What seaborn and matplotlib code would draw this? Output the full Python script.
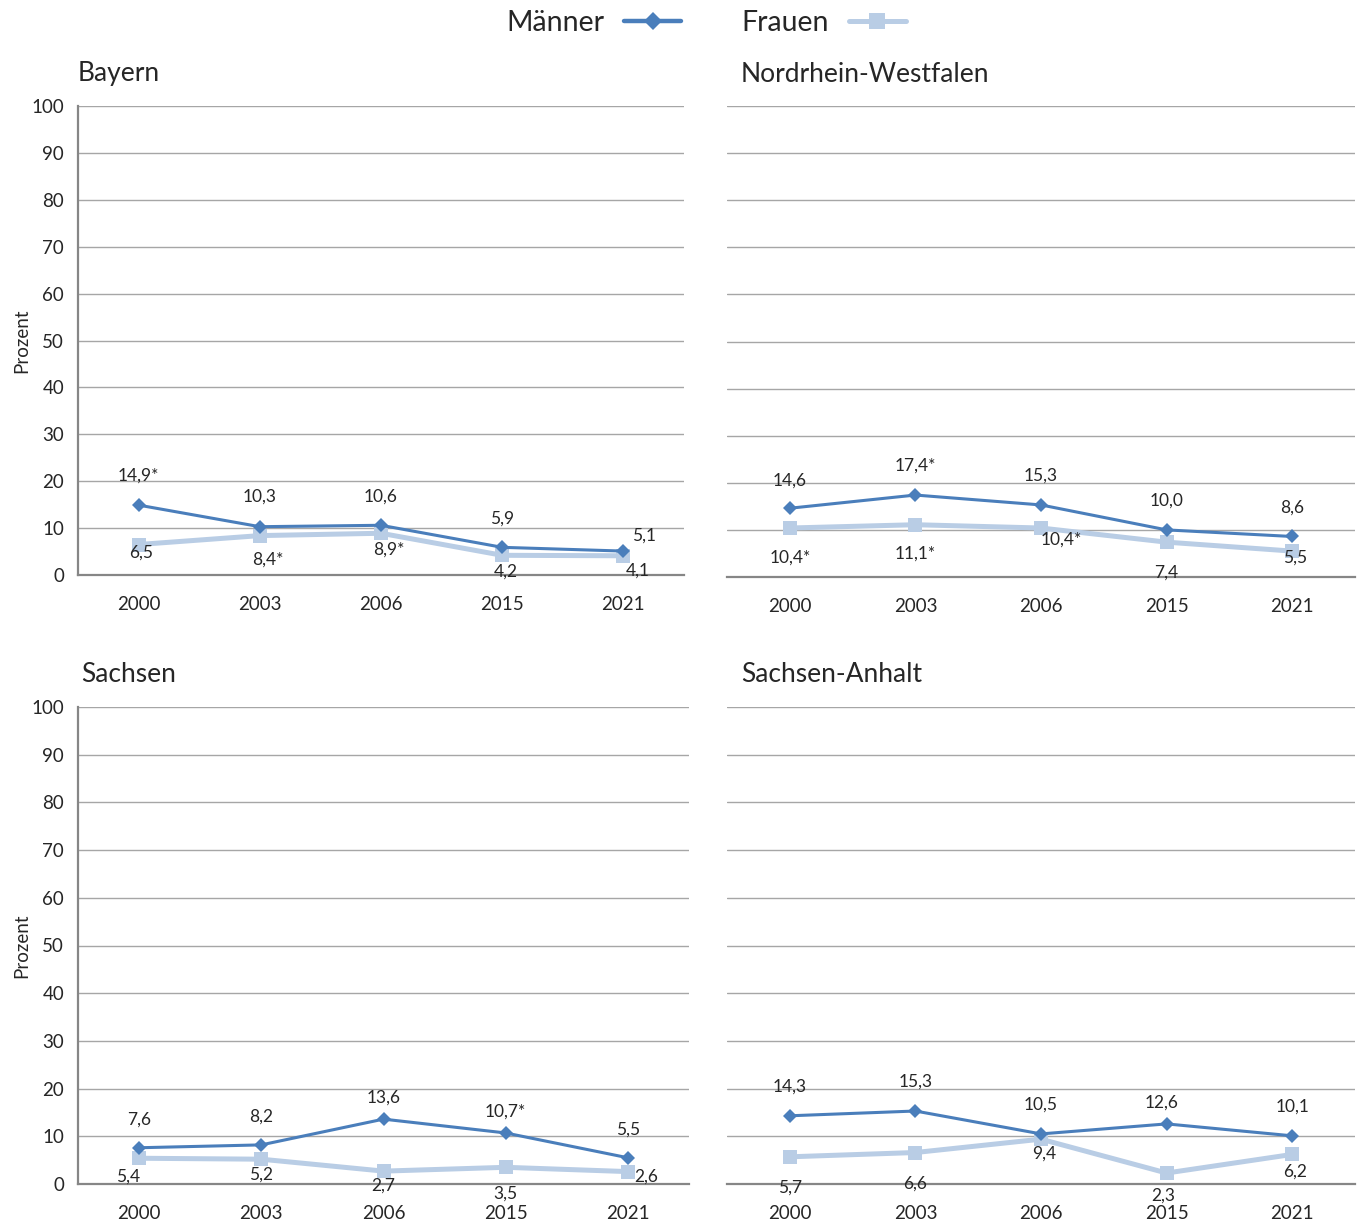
import matplotlib
matplotlib.use("Agg")
import matplotlib.pyplot as plt
import seaborn as sns
import pandas as pd
from matplotlib.lines import Line2D

years = ["2000", "2003", "2006", "2015", "2021"]
regions = ["Bayern", "Nordrhein-Westfalen", "Sachsen", "Sachsen-Anhalt"]

bayern_m = [14.9, 10.3, 10.6, 5.9, 5.1]
bayern_m_lab = ["14,9*", "10,3", "10,6", "5,9", "5,1"]
bayern_f = [6.5, 8.4, 8.9, 4.2, 4.1]
bayern_f_lab = ["6,5", "8,4*", "8,9*", "4,2", "4,1"]

nrw_m = [14.6, 17.4, 15.3, 10.0, 8.6]
nrw_m_lab = ["14,6", "17,4*", "15,3", "10,0", "8,6"]
nrw_f = [10.4, 11.1, 10.4, 7.4, 5.5]
nrw_f_lab = ["10,4*", "11,1*", "10,4*", "7,4", "5,5"]

sachsen_m = [7.6, 8.2, 13.6, 10.7, 5.5]
sachsen_m_lab = ["7,6", "8,2", "13,6", "10,7*", "5,5"]
sachsen_f = [5.4, 5.2, 2.7, 3.5, 2.6]
sachsen_f_lab = ["5,4", "5,2", "2,7", "3,5", "2,6"]

sa_m = [14.3, 15.3, 10.5, 12.6, 10.1]
sa_m_lab = ["14,3", "15,3", "10,5", "12,6", "10,1"]
sa_f = [5.7, 6.6, 9.4, 2.3, 6.2]
sa_f_lab = ["5,7", "6,6", "9,4", "2,3", "6,2"]

# label offsets in pixels (dx, dy; positive dy = up)
off_m = {
    "Bayern": [(0, 29), (0, 30), (0, 29), (0, 29), (21, 15)],
    "Nordrhein-Westfalen": [(0, 28), (0, 29), (0, 29), (0, 29), (0, 29)],
    "Sachsen": [(0, 28), (0, 28), (0, 22), (0, 21), (0, 28)],
    "Sachsen-Anhalt": [(0, 29), (0, 29), (0, 29), (-5, 21), (0, 29)],
}
off_f = {
    "Bayern": [(3, -8), (8, -24), (8, -16), (4, -16), (14, -15)],
    "Nordrhein-Westfalen": [(0, -30), (0, -29), (20, -12), (0, -30), (3, -7)],
    "Sachsen": [(-11, -18), (0, -15), (0, -15), (0, -26), (18, -5)],
    "Sachsen-Anhalt": [(0, -31), (0, -31), (3, -14), (-3, -23), (3, -17)],
}

data = {
    "Bayern": (bayern_m, bayern_m_lab, bayern_f, bayern_f_lab),
    "Nordrhein-Westfalen": (nrw_m, nrw_m_lab, nrw_f, nrw_f_lab),
    "Sachsen": (sachsen_m, sachsen_m_lab, sachsen_f, sachsen_f_lab),
    "Sachsen-Anhalt": (sa_m, sa_m_lab, sa_f, sa_f_lab),
}

sns.set_style("white")
plt.rcParams["font.family"] = ["Lato", "DejaVu Sans"]

W, H = 1362, 1221
fig = plt.figure(figsize=(W / 100, H / 100), dpi=100)

C_M = "#4A7EBB"
C_F = "#B9CDE5"
GRID = "#A6A6A6"
SPINE = "#868686"

boxes = {
    "Bayern": (78, 684, 106, 575),
    "Nordrhein-Westfalen": (727, 1355, 106, 577),
    "Sachsen": (78, 689, 707, 1184),
    "Sachsen-Anhalt": (727, 1355, 707, 1184),
}
title_dx = {"Bayern": 0, "Nordrhein-Westfalen": 14, "Sachsen": 3, "Sachsen-Anhalt": 14}

for reg in regions:
    l, r, t, b = boxes[reg]
    ax = fig.add_axes([l / W, 1 - b / H, (r - l) / W, (b - t) / H])
    m, ml, f, fl = data[reg]
    df_m = pd.DataFrame({"Jahr": years, "Wert": m})
    df_f = pd.DataFrame({"Jahr": years, "Wert": f})
    sns.lineplot(data=df_f, x="Jahr", y="Wert", ax=ax, color=C_F, linewidth=3.6,
                 marker="s", markersize=10.5, markeredgewidth=0, sort=False, zorder=3)
    sns.lineplot(data=df_m, x="Jahr", y="Wert", ax=ax, color=C_M, linewidth=2.2,
                 marker="D", markersize=7, markeredgewidth=0, sort=False, zorder=4)
    ax.set_xlim(-0.5, 4.5)
    ax.set_ylim(0, 100)
    ax.set_yticks(range(0, 101, 10))
    ax.yaxis.grid(True, color=GRID, linewidth=1)
    ax.set_axisbelow(True)
    ax.set_xticks(range(5))
    ax.set_xticklabels(years, fontsize=13.5)
    ax.set_xticks([i - 0.5 for i in range(6)], minor=True)
    ax.tick_params(axis="x", which="major", length=0, pad=15)
    ax.tick_params(axis="x", which="minor", length=6, color=SPINE, width=1.3)
    ax.set_xlabel("")
    for s in ["top", "right"]:
        ax.spines[s].set_visible(False)
    ax.spines["bottom"].set_color(SPINE)
    ax.spines["bottom"].set_linewidth(1.6)
    if reg in ("Bayern", "Sachsen"):
        ax.spines["left"].set_color(SPINE)
        ax.spines["left"].set_linewidth(1.6)
        ax.tick_params(axis="y", length=6, color=SPINE, width=1.3, labelsize=13.5, pad=4)
        ax.set_ylabel("Prozent", fontsize=13.5, labelpad=1)
    else:
        ax.spines["left"].set_visible(False)
        ax.set_yticklabels([])
        ax.tick_params(axis="y", length=0)
        ax.set_ylabel("")
    for i in range(5):
        dx, dy = off_m[reg][i]
        ax.annotate(ml[i], xy=(i, m[i]), xytext=(dx, dy), textcoords="offset pixels",
                    ha="center", va="center", fontsize=12.5, zorder=5)
        dx, dy = off_f[reg][i]
        ax.annotate(fl[i], xy=(i, f[i]), xytext=(dx, dy), textcoords="offset pixels",
                    ha="center", va="center", fontsize=12.5, zorder=5)
    ax.annotate(reg, xy=(0, 1), xycoords="axes fraction", xytext=(title_dx[reg], 32),
                textcoords="offset pixels", ha="left", va="center", fontsize=19)

handles = [
    Line2D([], [], color=C_M, linewidth=3.2, marker="D", markersize=9, markeredgewidth=0),
    Line2D([], [], color=C_F, linewidth=3.6, marker="s", markersize=11, markeredgewidth=0),
]
fig.legend(handles, ["Männer", "Frauen"], loc="center", bbox_to_anchor=(706 / W, 1 - 23 / H),
           ncol=2, frameon=False, markerfirst=False, fontsize=20.5, handlelength=2.0,
           handletextpad=0.7, columnspacing=2.1)

fig.savefig("out.png", dpi=100)
